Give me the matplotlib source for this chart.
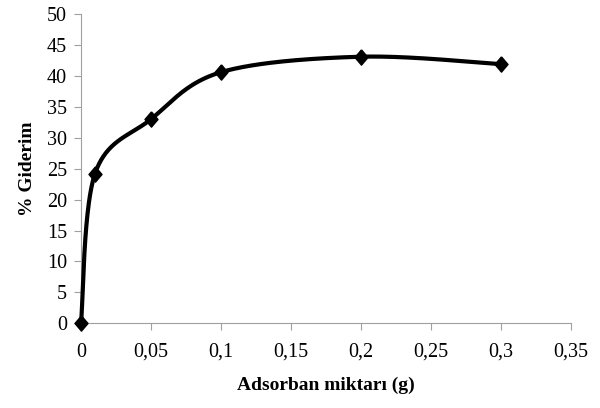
import numpy as np
import matplotlib
matplotlib.use("Agg")
import matplotlib.pyplot as plt
from matplotlib.ticker import FuncFormatter

# Veriler
adsorban = [0, 0.01, 0.05, 0.1, 0.2, 0.3]
giderim = [0, 24.2, 33.0, 40.6, 43.1, 41.9]

plt.rcParams['font.family'] = ['Liberation Serif', 'DejaVu Serif']


def excel_smooth(x, y, n=60):
    # Excel tarzi yumusatilmis egri (Bezier, tension 1/6)
    x = np.asarray(x, float)
    y = np.asarray(y, float)
    xs, ys = [], []
    for i in range(len(x) - 1):
        p0 = np.array([x[max(i - 1, 0)], y[max(i - 1, 0)]])
        p1 = np.array([x[i], y[i]])
        p2 = np.array([x[i + 1], y[i + 1]])
        p3 = np.array([x[min(i + 2, len(x) - 1)], y[min(i + 2, len(x) - 1)]])
        c1 = p1 + (p2 - p0) / 6
        c2 = p2 - (p3 - p1) / 6
        t = np.linspace(0, 1, n)[:, None]
        pts = ((1 - t) ** 3) * p1 + 3 * ((1 - t) ** 2) * t * c1 + 3 * (1 - t) * t ** 2 * c2 + t ** 3 * p2
        xs.extend(pts[:, 0])
        ys.extend(pts[:, 1])
    return np.array(xs), np.array(ys)


fig = plt.figure(figsize=(6, 4.08), dpi=100)
ax = fig.add_axes([0.135, 0.2076, 0.8167, 0.758])

elmas = [(0, 1), (0.85, 0), (0, -1), (-0.85, 0), (0, 1)]

sx, sy = excel_smooth(adsorban, giderim)
ax.plot(sx, sy, color='black', lw=3, solid_capstyle='round', clip_on=False, zorder=3)
ax.plot(adsorban, giderim, linestyle='none', marker=elmas, color='black', markersize=11,
        clip_on=False, zorder=4)

ax.set_xlim(0, 0.35)
ax.set_ylim(0, 50)
ax.set_xticks(np.arange(0, 0.351, 0.05))
ax.set_yticks(np.arange(0, 51, 5))
ax.xaxis.set_major_formatter(FuncFormatter(lambda v, p: ('%g' % round(v, 2)).replace('.', ',')))

for s in ['top', 'right']:
    ax.spines[s].set_visible(False)
for s in ['left', 'bottom']:
    ax.spines[s].set_color('#a0a0a0')
ax.tick_params(colors='#a0a0a0', labelcolor='black', labelsize=14.5, length=5)
ax.tick_params(axis='x', pad=9)
ax.tick_params(axis='y', pad=5)

ax.set_xlabel('Adsorban miktarı (g)', fontsize=14, fontweight='bold', labelpad=11)
ax.set_ylabel('% Giderim', fontsize=14, fontweight='bold', labelpad=8)

fig.savefig('out.png', dpi=100)
